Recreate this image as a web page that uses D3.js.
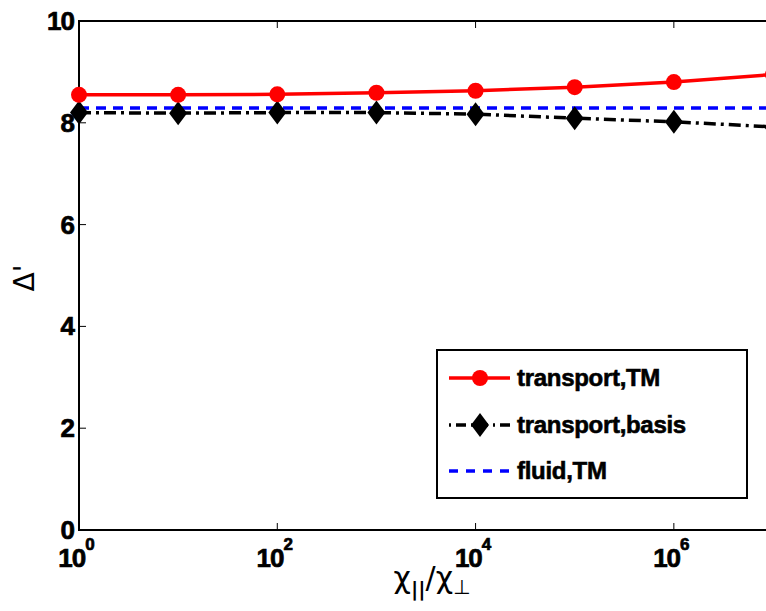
<!DOCTYPE html>
<html><head><meta charset="utf-8">
<script src="https://cdn.jsdelivr.net/npm/d3@7"></script>
<style>body{margin:0;background:#fff;overflow:hidden}</style>
</head><body>
<svg id="c" width="766" height="611"></svg>
<script>
const xVals = [1e0, 1e1, 1e2, 1e3, 1e4, 1e5, 1e6, 1e7];
const transportTM = [8.55, 8.55, 8.56, 8.59, 8.63, 8.70, 8.80, 8.95];
const transportBasis = [8.20, 8.19, 8.20, 8.20, 8.17, 8.09, 8.02, 7.92];
const fluidTM = [8.29, 8.29, 8.29, 8.29, 8.29, 8.29, 8.29, 8.29];
const xTicks = [1e0, 1e2, 1e4, 1e6];
const yTicks = [0, 2, 4, 6, 8, 10];
const legendLabels = ["transport,TM", "transport,basis", "fluid,TM"];

const svg = d3.select("#c");
const L = 79, R = 773, T = 21, B = 530;
const x = d3.scaleLog().domain([1, 1e7]).range([L, R]);
const y = d3.scaleLinear().domain([0, 10]).range([B, T]);
const font = "Liberation Sans, Arial, sans-serif";
const gfont = "DejaVu Sans, sans-serif";

svg.append("rect").attr("x", L).attr("y", T).attr("width", R - L).attr("height", B - T)
  .attr("fill", "none").attr("stroke", "#000").attr("stroke-width", 2);

xTicks.forEach(v => {
  svg.append("line").attr("x1", x(v)).attr("x2", x(v)).attr("y1", B).attr("y2", B - 7).attr("stroke", "#000").attr("stroke-width", 1);
  svg.append("line").attr("x1", x(v)).attr("x2", x(v)).attr("y1", T).attr("y2", T + 7).attr("stroke", "#000").attr("stroke-width", 1);
  const e = Math.round(Math.log10(v));
  const t = svg.append("text").attr("x", x(v) - 3).attr("y", 567).attr("text-anchor", "middle")
    .attr("font-family", font).attr("font-weight", "bold").attr("font-size", 26).attr("letter-spacing", -1)
    .attr("stroke", "#000").attr("stroke-width", 0.7);
  t.append("tspan").text("10");
  t.append("tspan").attr("dy", -17).attr("font-size", 17).text(e);
});
yTicks.forEach(v => {
  svg.append("line").attr("x1", L).attr("x2", L + 7).attr("y1", y(v)).attr("y2", y(v)).attr("stroke", "#000").attr("stroke-width", 1);
  svg.append("text").attr("x", 74).attr("y", y(v) + 9).attr("text-anchor", "end")
    .attr("font-family", font).attr("font-weight", "bold").attr("font-size", 26).attr("letter-spacing", -1)
    .attr("stroke", "#000").attr("stroke-width", 0.7).text(v);
});

const xl = svg.append("text").attr("x", 432).attr("y", 588).attr("text-anchor", "middle")
  .attr("font-family", gfont).attr("font-size", 30);
xl.append("tspan").text("χ");
xl.append("tspan").attr("dy", 8).attr("font-size", 20).attr("font-weight", "bold").text("||");
xl.append("tspan").attr("dy", -8).text("/χ");
xl.append("tspan").attr("dy", 6).attr("font-size", 20).text("⊥");
svg.append("text").attr("transform", "translate(34,278) rotate(-90)").attr("text-anchor", "middle")
  .attr("font-family", gfont).attr("font-size", 28).text("Δ'");

const g = svg.append("g");
const line = d3.line().x((d, i) => x(xVals[i])).y(d => y(d));
const diamondPath = "M0,-12L9,0L0,12L-9,0Z";

g.append("path").datum(fluidTM).attr("d", line).attr("fill", "none")
  .attr("stroke", "#0000ff").attr("stroke-width", 3.5).attr("stroke-dasharray", "10,7");
g.append("path").datum(transportBasis).attr("d", line).attr("fill", "none")
  .attr("stroke", "#000").attr("stroke-width", 3.5).attr("stroke-dasharray", "12,5,3,5");
g.selectAll(".dm").data(transportBasis).enter().append("path")
  .attr("transform", (d, i) => `translate(${x(xVals[i])},${y(d)})`).attr("d", diamondPath).attr("fill", "#000");
g.append("path").datum(transportTM).attr("d", line).attr("fill", "none")
  .attr("stroke", "#ff0000").attr("stroke-width", 3.5);
g.selectAll(".rc").data(transportTM).enter().append("circle")
  .attr("cx", (d, i) => x(xVals[i])).attr("cy", d => y(d)).attr("r", 8).attr("fill", "#ff0000");

const lg = svg.append("g");
lg.append("rect").attr("x", 437).attr("y", 350).attr("width", 310).attr("height", 148)
  .attr("fill", "#fff").attr("stroke", "#000").attr("stroke-width", 2);
const rows = [378, 425, 471];
lg.append("line").attr("x1", 449).attr("x2", 510).attr("y1", rows[0]).attr("y2", rows[0]).attr("stroke", "#ff0000").attr("stroke-width", 3.5);
lg.append("circle").attr("cx", 480).attr("cy", rows[0]).attr("r", 8).attr("fill", "#ff0000");
lg.append("line").attr("x1", 449).attr("x2", 510).attr("y1", rows[1]).attr("y2", rows[1]).attr("stroke", "#000").attr("stroke-width", 3.5).attr("stroke-dasharray", "2,5,10,5");
lg.append("path").attr("transform", `translate(480,${rows[1]})`).attr("d", diamondPath).attr("fill", "#000");
lg.append("line").attr("x1", 449).attr("x2", 510).attr("y1", rows[2]).attr("y2", rows[2]).attr("stroke", "#0000ff").attr("stroke-width", 3.5).attr("stroke-dasharray", "9,8");
legendLabels.forEach((t, i) => {
  lg.append("text").attr("x", 517).attr("y", rows[i] + 8).attr("font-family", font).attr("font-weight", "bold")
    .attr("font-size", 24).attr("letter-spacing", -0.3).attr("stroke", "#000").attr("stroke-width", 0.6).text(t);
});
</script>
</body></html>
